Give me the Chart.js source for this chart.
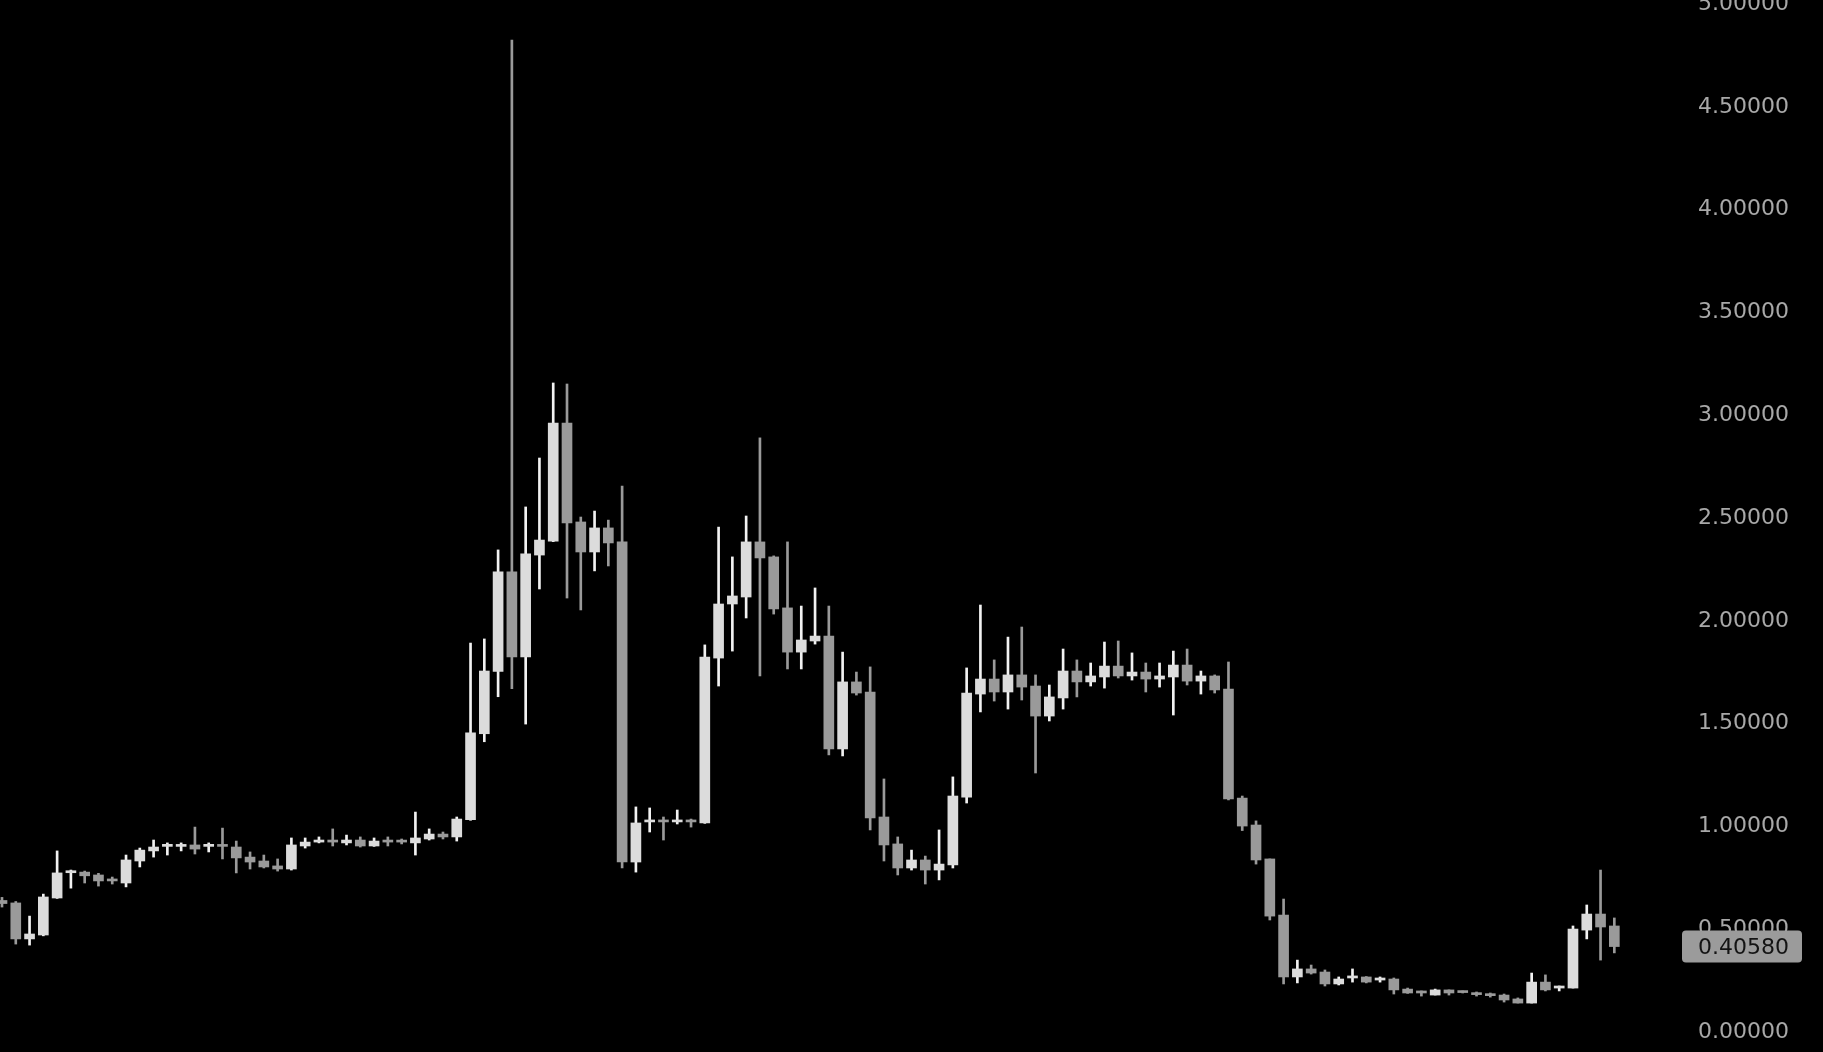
<!DOCTYPE html>
<html>
<head>
<meta charset="utf-8">
<script src="https://cdn.jsdelivr.net/npm/chart.js@4.4.0/dist/chart.umd.min.js"></script>
<style>
  html, body { margin: 0; padding: 0; background: #000; overflow: hidden; }
  #wrap { position: relative; width: 1823px; height: 1052px; }
</style>
</head>
<body>
<div id="wrap"><canvas id="chart"></canvas></div>
<script>
// candle values (one entry per candle, left to right)
const opens = [0.630, 0.618, 0.443, 0.462, 0.642, 0.765, 0.768, 0.754, 0.733, 0.715,
  0.822, 0.871, 0.893, 0.893, 0.900, 0.893, 0.900, 0.890, 0.841, 0.822,
  0.798, 0.783, 0.895, 0.914, 0.924, 0.910, 0.924, 0.895, 0.924, 0.922,
  0.910, 0.929, 0.953, 0.939, 1.023, 1.441, 1.744, 2.228, 1.814, 2.310,
  2.378, 2.952, 2.471, 2.325, 2.442, 2.374, 0.817, 1.012, 1.021, 1.012,
  1.021, 1.007, 1.809, 2.072, 2.106, 2.374, 2.301, 2.053, 1.838, 1.892,
  1.916, 1.367, 1.693, 1.644, 1.036, 0.905, 0.788, 0.827, 0.778, 0.803,
  1.133, 1.634, 1.707, 1.644, 1.727, 1.673, 1.527, 1.615, 1.746, 1.693,
  1.717, 1.770, 1.722, 1.741, 1.707, 1.717, 1.775, 1.697, 1.722, 1.658,
  1.128, 0.997, 0.832, 0.559, 0.258, 0.297, 0.282, 0.224, 0.253, 0.258,
  0.243, 0.248, 0.199, 0.190, 0.170, 0.195, 0.188, 0.180, 0.175, 0.170,
  0.151, 0.131, 0.233, 0.204, 0.204, 0.486, 0.564, 0.506];
const highs = [0.645, 0.625, 0.554, 0.661, 0.871, 0.778, 0.773, 0.762, 0.744, 0.851,
  0.885, 0.924, 0.910, 0.910, 0.987, 0.910, 0.982, 0.919, 0.866, 0.851,
  0.832, 0.934, 0.934, 0.939, 0.978, 0.948, 0.939, 0.934, 0.939, 0.929,
  1.060, 0.978, 0.963, 1.036, 1.882, 1.902, 2.335, 4.815, 2.544, 2.782,
  3.147, 3.142, 2.495, 2.524, 2.480, 2.646, 1.085, 1.080, 1.036, 1.070,
  1.026, 1.873, 2.446, 2.301, 2.500, 2.880, 2.306, 2.374, 2.062, 2.150,
  2.062, 1.838, 1.741, 1.766, 1.221, 0.939, 0.875, 0.846, 0.973, 1.231,
  1.761, 2.067, 1.800, 1.911, 1.960, 1.727, 1.678, 1.853, 1.800, 1.785,
  1.887, 1.892, 1.834, 1.785, 1.785, 1.843, 1.853, 1.746, 1.727, 1.790,
  1.138, 1.017, 0.832, 0.637, 0.340, 0.316, 0.292, 0.258, 0.297, 0.260,
  0.258, 0.253, 0.204, 0.190, 0.199, 0.195, 0.190, 0.185, 0.180, 0.175,
  0.156, 0.277, 0.268, 0.214, 0.506, 0.608, 0.778, 0.545];
const lows = [0.598, 0.418, 0.413, 0.458, 0.640, 0.690, 0.715, 0.700, 0.710, 0.696,
  0.793, 0.841, 0.851, 0.871, 0.856, 0.866, 0.832, 0.764, 0.783, 0.788,
  0.773, 0.778, 0.885, 0.910, 0.895, 0.900, 0.890, 0.893, 0.895, 0.905,
  0.851, 0.924, 0.929, 0.919, 1.020, 1.402, 1.621, 1.660, 1.488, 2.145,
  2.375, 2.101, 2.043, 2.233, 2.257, 0.788, 0.768, 0.963, 0.924, 1.002,
  0.987, 1.005, 1.673, 1.843, 2.004, 1.722, 2.023, 1.756, 1.756, 1.877,
  1.338, 1.333, 1.629, 0.973, 0.822, 0.754, 0.778, 0.710, 0.730, 0.788,
  1.104, 1.547, 1.600, 1.561, 1.605, 1.250, 1.503, 1.561, 1.620, 1.673,
  1.663, 1.712, 1.702, 1.644, 1.668, 1.532, 1.678, 1.634, 1.639, 1.119,
  0.970, 0.807, 0.535, 0.224, 0.229, 0.272, 0.214, 0.219, 0.233, 0.229,
  0.233, 0.175, 0.178, 0.165, 0.170, 0.170, 0.180, 0.165, 0.160, 0.136,
  0.131, 0.131, 0.190, 0.190, 0.204, 0.443, 0.340, 0.375];
const closes = [0.615, 0.443, 0.467, 0.647, 0.764, 0.773, 0.750, 0.725, 0.725, 0.827,
  0.875, 0.890, 0.903, 0.900, 0.880, 0.903, 0.893, 0.837, 0.817, 0.793,
  0.783, 0.900, 0.914, 0.924, 0.914, 0.924, 0.895, 0.919, 0.914, 0.914,
  0.934, 0.953, 0.939, 1.026, 1.445, 1.746, 2.228, 1.814, 2.316, 2.383,
  2.952, 2.466, 2.325, 2.442, 2.369, 0.817, 1.007, 1.021, 1.012, 1.021,
  1.012, 1.814, 2.072, 2.111, 2.374, 2.296, 2.048, 1.838, 1.897, 1.916,
  1.367, 1.693, 1.639, 1.031, 0.900, 0.788, 0.827, 0.778, 0.807, 1.138,
  1.639, 1.707, 1.644, 1.727, 1.668, 1.527, 1.620, 1.746, 1.693, 1.722,
  1.770, 1.722, 1.741, 1.707, 1.722, 1.775, 1.697, 1.722, 1.654, 1.124,
  0.992, 0.827, 0.554, 0.258, 0.297, 0.277, 0.224, 0.248, 0.263, 0.233,
  0.253, 0.195, 0.180, 0.180, 0.195, 0.180, 0.182, 0.172, 0.167, 0.146,
  0.131, 0.233, 0.195, 0.214, 0.491, 0.564, 0.501, 0.4058];
const tickValues = [0, 0.5, 1, 1.5, 2, 2.5, 3, 3.5, 4, 4.5, 5];

const UP = '#dcdcdc';
const UP_WICK = '#f2f2f2';
const DOWN = '#9a9a9a';
const LABEL_FONT = { family: '"DejaVu Sans"', size: 22 };

const lastPrice = closes[closes.length - 1];
const isUp = opens.map((o, i) => closes[i] >= o);

const bodies = opens.map((o, i) => ({ x: i, y: [o, closes[i]] }));
const wicks = opens.map((o, i) => ({ x: i, y: [lows[i], highs[i]] }));

// last price tag drawn over the right axis
const priceTag = {
  id: 'priceTag',
  afterDraw(chart) {
    const ctx = chart.ctx;
    const right = chart.chartArea.right;
    const y = chart.scales.y.getPixelForValue(lastPrice);
    ctx.save();
    ctx.fillStyle = '#9b9b9b';
    ctx.beginPath();
    ctx.roundRect(right + 12, y - 16, 120, 32, 4);
    ctx.fill();
    ctx.fillStyle = '#141414';
    ctx.font = LABEL_FONT.size + 'px ' + LABEL_FONT.family;
    ctx.textBaseline = 'middle';
    ctx.textAlign = 'left';
    ctx.fillText(lastPrice.toFixed(5), right + 28, y + 2);
    ctx.restore();
  }
};

new Chart(document.getElementById('chart'), {
  type: 'bar',
  data: {
    datasets: [
      {
        data: bodies,
        backgroundColor: isUp.map(u => u ? UP : DOWN),
        barThickness: 10,
        minBarLength: 2,
        grouped: false,
        borderWidth: 0,
        order: 0
      },
      {
        data: wicks,
        backgroundColor: isUp.map(u => u ? UP_WICK : DOWN),
        barThickness: 2,
        grouped: false,
        borderWidth: 0,
        order: 1
      }
    ]
  },
  options: {
    responsive: true,
    maintainAspectRatio: false,
    animation: false,
    events: [],
    layout: { padding: 0 },
    plugins: { legend: { display: false }, tooltip: { enabled: false } },
    scales: {
      x: {
        type: 'linear',
        display: false,
        offset: false,
        min: -0.145,
        max: 121.04
      },
      y: {
        position: 'right',
        min: -0.107,
        max: 5.0097,
        grid: { display: false, drawTicks: false },
        border: { display: false },
        afterBuildTicks: s => { s.ticks = tickValues.map(v => ({ value: v })); },
        afterFit: s => { s.width = 153; s.paddingTop = 0; s.paddingBottom = 0; },
        ticks: {
          padding: 28,
          labelOffset: 2,
          color: '#a8a8a8',
          font: LABEL_FONT,
          callback: v => Number(v).toFixed(5)
        }
      }
    }
  },
  plugins: [priceTag]
});
</script>
</body>
</html>
